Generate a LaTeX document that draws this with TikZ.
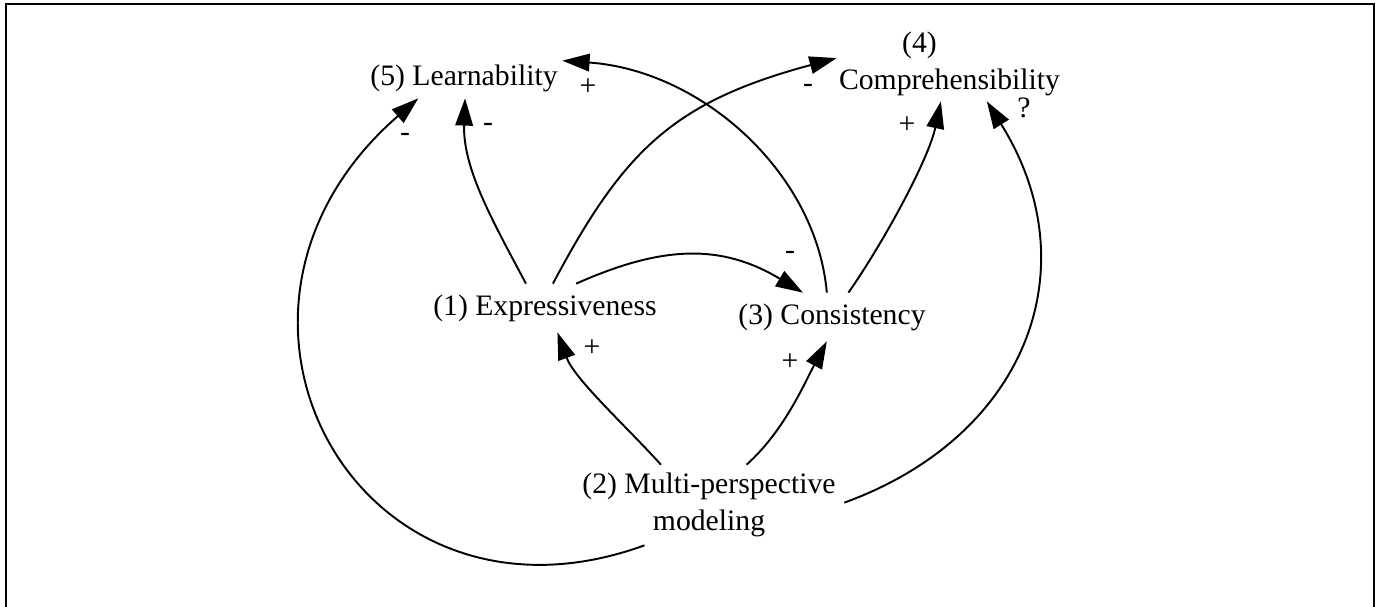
\documentclass[tikz,border=0pt]{standalone}
\usepackage{fontspec}
\setmainfont{Liberation Serif}
\usetikzlibrary{arrows.meta}

\begin{document}
\begin{tikzpicture}[x=0.02cm, y=0.02cm,
  every node/.style={font=\fontsize{16.9}{21.3}\selectfont},
  factor/.style={inner sep=0pt, align=center},
  link/.style={line width=1.1pt, -{Triangle[length=15.5pt,width=10pt]}},
  sign/.style={inner sep=0pt}]
\useasboundingbox (0,0) rectangle (1382,-607);
\draw[line width=1.25pt] (6,-4) rectangle (1374,-612);

% factors
\node[factor, minimum width=3.92cm, minimum height=0.8cm] (learn) at (464,-78) {(5) Learnability};
\node[factor, minimum width=4.5cm, minimum height=1.48cm] (compr) at (949.5,-64) {(4)\hspace*{1.2cm}\\Comprehensibility};
\node[factor, minimum width=4.8cm, minimum height=0.96cm] (expr) at (545,-308) {(1) Expressiveness};
\node[factor, minimum width=4.08cm, minimum height=0.96cm] (cons) at (832,-317) {(3) Consistency};
\node[factor, minimum width=5.4cm, minimum height=1.6cm] (multi) at (709,-505) {(2) Multi-perspective\\modeling};

% influences
\draw[link] (expr.128) .. controls +(118:70) and +(268:70) .. (learn.-87);
\draw[link] (expr.72) .. controls +(62:150) and +(195:170) .. (compr.177);
\draw[link] (expr.38) .. controls +(24:95) and +(149:95) .. (cons.140);
\draw[link] (cons.102) .. controls +(95:120) and +(-4:140) .. (learn.10);
\draw[link] (cons.56) .. controls +(55:60) and +(-102:60) .. (compr.-103);
\draw[link] (multi.140) .. controls +(132:50) and +(-70:50) .. (expr.-63);
\draw[link] (multi.47) .. controls +(42:50) and +(-118:50) .. (cons.-102);
\draw[link] (multi.212) .. controls +(200:305) and +(221:325) .. (learn.204);
\draw[link] (multi.1) .. controls +(20:195) and +(-58:195) .. (compr.-45);

% signs
\node[sign] (s1) at (488,-127) {-};
\node[sign] (s2) at (808,-88) {-};
\node[sign] (s3) at (790,-255) {-};
\node[sign] (s4) at (588,-87) {+};
\node[sign] (s5) at (907,-125) {+};
\node[sign] (s6) at (592,-348) {+};
\node[sign] (s7) at (790,-362) {+};
\node[sign] (s8) at (405,-137) {-};
\node[sign] (s9) at (1024,-108) {?};
\end{tikzpicture}
\end{document}
